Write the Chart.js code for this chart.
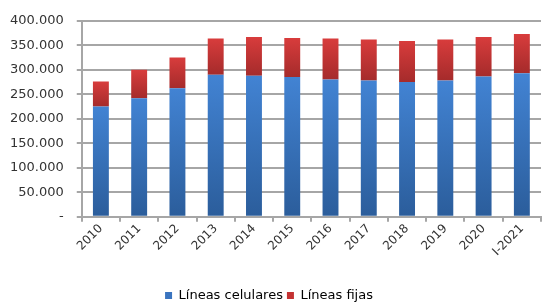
<!DOCTYPE html>
<html>
<head>
<meta charset="utf-8">
<script src="https://cdn.jsdelivr.net/npm/chart.js@4"></script>
<style>
  html, body { margin: 0; padding: 0; background: #ffffff; }
  #wrap { width: 546px; height: 302px; position: relative; }
</style>
</head>
<body>
<div id="wrap"><canvas id="chart"></canvas></div>
<script>
// Data
const categories = ['2010', '2011', '2012', '2013', '2014', '2015', '2016', '2017', '2018', '2019', '2020', 'I-2021'];
const lineasCelulares = [225000, 242000, 262000, 290000, 288000, 285000, 280000, 278000, 275000, 278000, 286000, 293000];
const lineasFijas = [51000, 58000, 63000, 74000, 79000, 80000, 84000, 84000, 84000, 84000, 81000, 80000];
const yTicks = [0, 50000, 100000, 150000, 200000, 250000, 300000, 350000, 400000];

// Gradient over each bar segment, light at its top and dark at its bottom
function barGradient(light, dark) {
    return function(ctx) {
        const chart = ctx.chart;
        const yScale = chart.scales.y;
        if (ctx.type !== 'data' || !yScale || !chart.chartArea) return light;
        let start = 0;
        for (let i = 0; i < ctx.datasetIndex; i++) {
            start += chart.data.datasets[i].data[ctx.dataIndex];
        }
        const end = start + chart.data.datasets[ctx.datasetIndex].data[ctx.dataIndex];
        const yTop = yScale.getPixelForValue(end);
        const yBottom = yScale.getPixelForValue(start);
        if (!isFinite(yTop) || !isFinite(yBottom) || yBottom <= yTop) return light;
        const g = chart.ctx.createLinearGradient(0, yTop, 0, yBottom);
        g.addColorStop(0, light);
        g.addColorStop(1, dark);
        return g;
    };
}

function formatThousands(v) {
    if (v === 0) return '-';
    return v.toLocaleString('de-DE');
}

const gridColor = '#a6a6a6';
const textColor = '#333333';

new Chart(document.getElementById('chart'), {
    type: 'bar',
    data: {
        labels: categories,
        datasets: [{
            label: 'Líneas celulares',
            data: lineasCelulares,
            backgroundColor: barGradient('#4283d3', '#2b5d9b'),
            borderWidth: 0,
            categoryPercentage: 0.8,
            barPercentage: 0.52
        }, {
            label: 'Líneas fijas',
            data: lineasFijas,
            backgroundColor: barGradient('#d83c3c', '#a52b2b'),
            borderWidth: 0,
            categoryPercentage: 0.8,
            barPercentage: 0.52
        }]
    },
    options: {
        responsive: true,
        maintainAspectRatio: false,
        animation: false,
        layout: { padding: { left: -3, right: 5, top: 10, bottom: -10 } },
        plugins: {
            tooltip: { enabled: false },
            legend: {
                position: 'bottom',
                labels: {
                    color: textColor,
                    font: { family: 'DejaVu Sans', size: 13 },
                    boxWidth: 7,
                    boxHeight: 7,
                    padding: 4,
                    generateLabels: function(chart) {
                        const colors = ['#3a74bf', '#c43232'];
                        return chart.data.datasets.map(function(ds, i) {
                            return {
                                text: ds.label,
                                fillStyle: colors[i],
                                strokeStyle: colors[i],
                                lineWidth: 0,
                                datasetIndex: i,
                                hidden: false
                            };
                        });
                    }
                }
            }
        },
        scales: {
            x: {
                stacked: true,
                afterFit: function(axis) {
                    axis.height += 26;
                    axis.paddingLeft = 0;
                    axis.paddingRight = 0;
                },
                grid: {
                    display: true,
                    drawOnChartArea: false,
                    drawTicks: true,
                    tickLength: 5,
                    color: gridColor,
                    lineWidth: 2,
                    offset: true
                },
                border: { color: gridColor, width: 2 },
                ticks: {
                    color: textColor,
                    font: { family: 'DejaVu Sans', size: 12 },
                    minRotation: 45,
                    maxRotation: 45,
                    padding: 0
                }
            },
            y: {
                stacked: true,
                min: 0,
                max: 400000,
                afterBuildTicks: function(axis) {
                    axis.ticks = yTicks.map(function(v) { return { value: v }; });
                },
                grid: {
                    color: gridColor,
                    lineWidth: 2,
                    tickLength: 5
                },
                border: { color: gridColor, width: 2 },
                ticks: {
                    color: textColor,
                    font: { family: 'DejaVu Sans', size: 13 },
                    padding: 13,
                    callback: function(v) { return formatThousands(v); }
                }
            }
        }
    }
});
</script>
</body>
</html>
